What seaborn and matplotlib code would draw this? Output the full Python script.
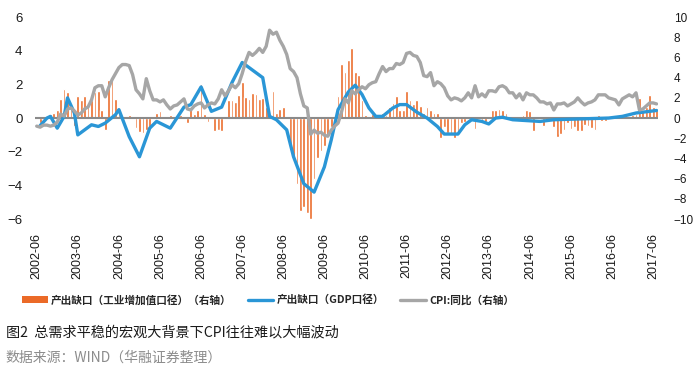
import pandas as pd
import matplotlib.pyplot as plt
import seaborn as sns
from matplotlib.patches import Patch
from matplotlib.lines import Line2D

# Monthly axis: 2002-06 .. 2017-07
start_month = '2002-06'
end_month = '2017-07'

# Output gap, industrial value added basis (right axis), monthly
ind_gap = [
    0.0, -0.5, -0.1, 0.2, 0.4, 0.5, 0.8, 1.85, 2.9, 2.6, 0.85, -0.8,
    2.2, 1.8, 2.2, 1.4, 1.8, 2.6, 2.7, 0.8, -1.2, 3.8, 3.8, 1.85,
    0.5, -0.2, 0.0, 0.3, 0.0, -1.0, -1.35, -1.5, -1.2, -0.9, 0.0, 0.5,
    0.7, 0.0, 0.0, 0.3, 0.0, 0.3, 0.3, 0.0, -0.45, 1.1, 0.4, 0.8,
    3.4, 0.45, -0.35, 0.05, -1.25, -1.2, -1.25, 0.0, 1.8, 1.8, 1.6, 2.3,
    3.6, 2.1, 1.9, 2.45, 2.4, 1.9, 1.95, 1.1, 0.0, 2.7, 0.5, 0.9,
    1.05, 0.0, -3.2, -4.2, -6.5, -9.2, -8.8, -9.4, -10.0, -6.0, -4.0, -3.3,
    -2.8, -1.85, -0.85, 0.0, 2.2, 5.4, 4.6, 5.7, 6.9, 4.6, 4.25, 1.8,
    0.3, 0.05, 0.45, 0.1, 0.0, 0.5, 0.3, 1.1, 1.5, 2.2, 0.8, 0.8,
    2.7, 1.8, 1.4, 1.8, 1.2, 0.5, 1.1, 0.8, 0.5, 0.5, -1.95, -0.9,
    -1.45, -1.6, -1.95, -1.6, -0.5, -0.35, -0.1, 0.0, -1.1, 0.0, -0.35, -0.35,
    0.15, 0.8, 0.8, 0.85, 0.8, 0.5, 0.0, -0.2, 0.1, 0.0, 0.3, 0.8,
    0.7, -1.25, 0.0, 0.0, -0.75, 0.1, 0.0, -0.85, -1.9, -1.6, -1.2, -0.45,
    -1.1, -0.85, -1.25, -1.25, -0.7, -0.8, -1.0, -1.2, 0.3, -0.3, -0.3, 0.0,
    0.0, 0.0, 0.0, 0.0, 0.0, 0.1, 0.3, 0.45, 1.95, 0.8, 1.1, 2.3,
    1.1, 0.8,
]

# CPI year-on-year (right axis), monthly
cpi_yoy = [
    -0.8, -0.9, -0.7, -0.7, -0.8, -0.7, -0.4,
    0.4, 0.2, 0.9, 1.0, 0.7, 0.3, 0.5, 0.9, 1.1, 1.8, 3.0, 3.2,
    3.2, 2.1, 3.0, 3.8, 4.4, 5.0, 5.3, 5.3, 5.2, 4.3, 2.8, 2.4,
    1.9, 3.9, 2.7, 1.8, 1.8, 1.6, 1.8, 1.3, 0.9, 1.2, 1.3, 1.6,
    1.9, 0.9, 0.8, 1.2, 1.4, 1.5, 1.0, 1.3, 1.5, 1.4, 1.9, 2.8,
    2.2, 2.7, 3.3, 3.0, 3.4, 4.4, 5.6, 6.5, 6.2, 6.5, 6.9, 6.5,
    7.1, 8.7, 8.3, 8.5, 7.7, 7.1, 6.3, 4.9, 4.6, 4.0, 2.4, 1.2,
    1.0, -1.6, -1.2, -1.5, -1.4, -1.7, -1.8, -1.2, -0.8, -0.5, 0.6, 1.9,
    1.5, 2.7, 2.4, 2.8, 3.1, 2.9, 3.3, 3.5, 3.6, 4.4, 5.1, 4.6,
    4.9, 4.9, 5.4, 5.3, 5.5, 6.4, 6.5, 6.2, 6.1, 5.5, 4.2, 4.1,
    4.5, 3.2, 3.6, 3.4, 3.0, 2.2, 1.8, 2.0, 1.9, 1.7, 2.0, 2.5,
    2.0, 3.2, 2.1, 2.4, 2.1, 2.7, 2.7, 2.6, 3.1, 3.2, 3.0, 2.5,
    2.5, 2.0, 2.4, 1.8, 2.5, 2.3, 2.3, 2.0, 1.6, 1.6, 1.4, 1.5,
    0.8, 1.4, 1.4, 1.5, 1.2, 1.4, 1.6, 2.0, 1.6, 1.3, 1.5, 1.6,
    1.8, 2.3, 2.3, 2.3, 2.0, 1.9, 1.8, 1.3, 1.9, 2.1, 2.3, 2.1,
    2.5, 0.8, 0.9, 1.2, 1.5, 1.5, 1.4,
]

# Output gap, GDP basis (left axis), read at these months
gdp_months = [
    '2002-07', '2002-09', '2002-10', '2002-12', '2003-02', '2003-03', '2003-05',
    '2003-06', '2003-08', '2003-10', '2003-12', '2004-02', '2004-05', '2004-06',
    '2004-09', '2004-12', '2005-03', '2005-05', '2005-09', '2006-01', '2006-03',
    '2006-06', '2006-09', '2006-12', '2007-03', '2007-06', '2007-08', '2007-12',
    '2008-02', '2008-04', '2008-07', '2008-09', '2008-12', '2009-03', '2009-06',
    '2009-08', '2009-10', '2010-01', '2010-03', '2010-05', '2010-07', '2010-09',
    '2010-11', '2011-02', '2011-04', '2011-06', '2011-09', '2011-12', '2012-03',
    '2012-05', '2012-09', '2012-11', '2013-01', '2013-04', '2013-06', '2013-08',
    '2013-10', '2014-01', '2014-09', '2015-01', '2015-09', '2016-05', '2016-09',
    '2017-01', '2017-07',
]
gdp_gap = [
    -0.45, 0.0, 0.1, -0.6, 0.1, 1.2, 0.3,
    -1.0, -0.7, -0.4, -0.5, -0.3, 0.2, 0.5,
    -1.1, -2.3, -0.6, -0.2, -0.6, 0.65, 0.8,
    1.85, 0.4, 0.65, 2.1, 3.3, 3.0, 2.4,
    0.1, -0.1, -0.7, -2.3, -3.9, -4.4, -2.9,
    -1.3, 0.5, 1.55, 1.95, 1.4, 0.6, 0.1,
    0.1, 0.6, 0.8, 0.8, 0.35, 0.0, -0.5,
    -0.95, -0.95, -0.4, -0.1, -0.2, -0.35, 0.0,
    0.05, -0.1, -0.2, -0.1, -0.05, 0.0, 0.1,
    0.3, 0.45,
]

labels = ['产出缺口（工业增加值口径）（右轴）', '产出缺口（GDP口径）', 'CPI:同比（右轴）']
title = '图2  总需求平稳的宏观大背景下CPI往往难以大幅波动'
source = '数据来源：WIND（华融证券整理）'

c_bar = '#EB6A28'
c_gdp = '#2A96D6'
c_cpi = '#A6A6A6'
cjk = ['Noto Sans CJK SC', 'DejaVu Sans']

sns.set_theme(style='white')
plt.rcParams['font.family'] = ['Liberation Sans', 'Noto Sans CJK SC']

months = pd.period_range(start_month, end_month, freq='M')
pos = {str(p): k for k, p in enumerate(months)}
idx = list(range(len(months)))
gdp_x = [pos[m] for m in gdp_months]

fig = plt.figure(figsize=(7, 3.79), dpi=100)
ax = fig.add_axes([0.05, 0.422, 0.8904, 0.533])

# bars (right scale)
sns.barplot(x=idx, y=ind_gap, ax=ax, color=c_bar, saturation=1, width=0.8)
ax.axhline(0, color='#8a8a8a', lw=1.5, zorder=3)

ax_gdp = ax.twinx()
sns.lineplot(x=gdp_x, y=gdp_gap, ax=ax_gdp, color=c_gdp, lw=2.4)

ax_cpi = ax.twinx()
sns.lineplot(x=idx, y=cpi_yoy, ax=ax_cpi, color=c_cpi, lw=2.4)

for a in (ax, ax_gdp, ax_cpi):
    a.set_xlim(-0.5, len(months) - 0.5)
    a.set_xlabel('')
    a.set_ylabel('')
    for s in a.spines.values():
        s.set_visible(False)

ax.set_ylim(-10, 10)
ax.yaxis.tick_right()
ax.set_yticks(range(-10, 11, 2))
ax.tick_params(axis='y', length=0, pad=11, labelsize=8.5, labelcolor='#1a1a1a')

ax_gdp.set_ylim(-6, 6)
ax_gdp.yaxis.tick_left()
ax_gdp.set_yticks(range(-6, 7, 2))
ax_gdp.tick_params(axis='y', length=0, pad=9, labelsize=9.5, labelcolor='#1a1a1a')

ax_cpi.set_ylim(-10, 10)
ax_cpi.set_yticks([])

tick_pos = idx[::12]
ax.set_xticks(tick_pos)
ax.set_xticklabels([str(months[k]) for k in tick_pos], rotation=90)
ax.tick_params(axis='x', length=0, pad=10, labelsize=9, labelcolor='#1a1a1a')

handles = [
    Patch(facecolor=c_bar, edgecolor='none'),
    Line2D([], [], color=c_gdp, lw=2.4),
    Line2D([], [], color=c_cpi, lw=2.4),
]
fig.legend(handles, labels, loc='center left', bbox_to_anchor=(0.024, 1 - 300 / 379),
           ncol=3, frameon=False, borderpad=0, handlelength=2.4, handleheight=0.6,
           handletextpad=0.3, columnspacing=1.5,
           prop={'family': cjk, 'size': 7.7, 'weight': 'bold'})

fig.text(0.008, 1 - 332 / 379, title, family=cjk, fontsize=10.2, color='#1a1a1a', va='center')
fig.text(0.008, 1 - 358 / 379, source, family=cjk, fontsize=10, color='#8c8c8c', va='center')

fig.savefig('out.png', dpi=100)
